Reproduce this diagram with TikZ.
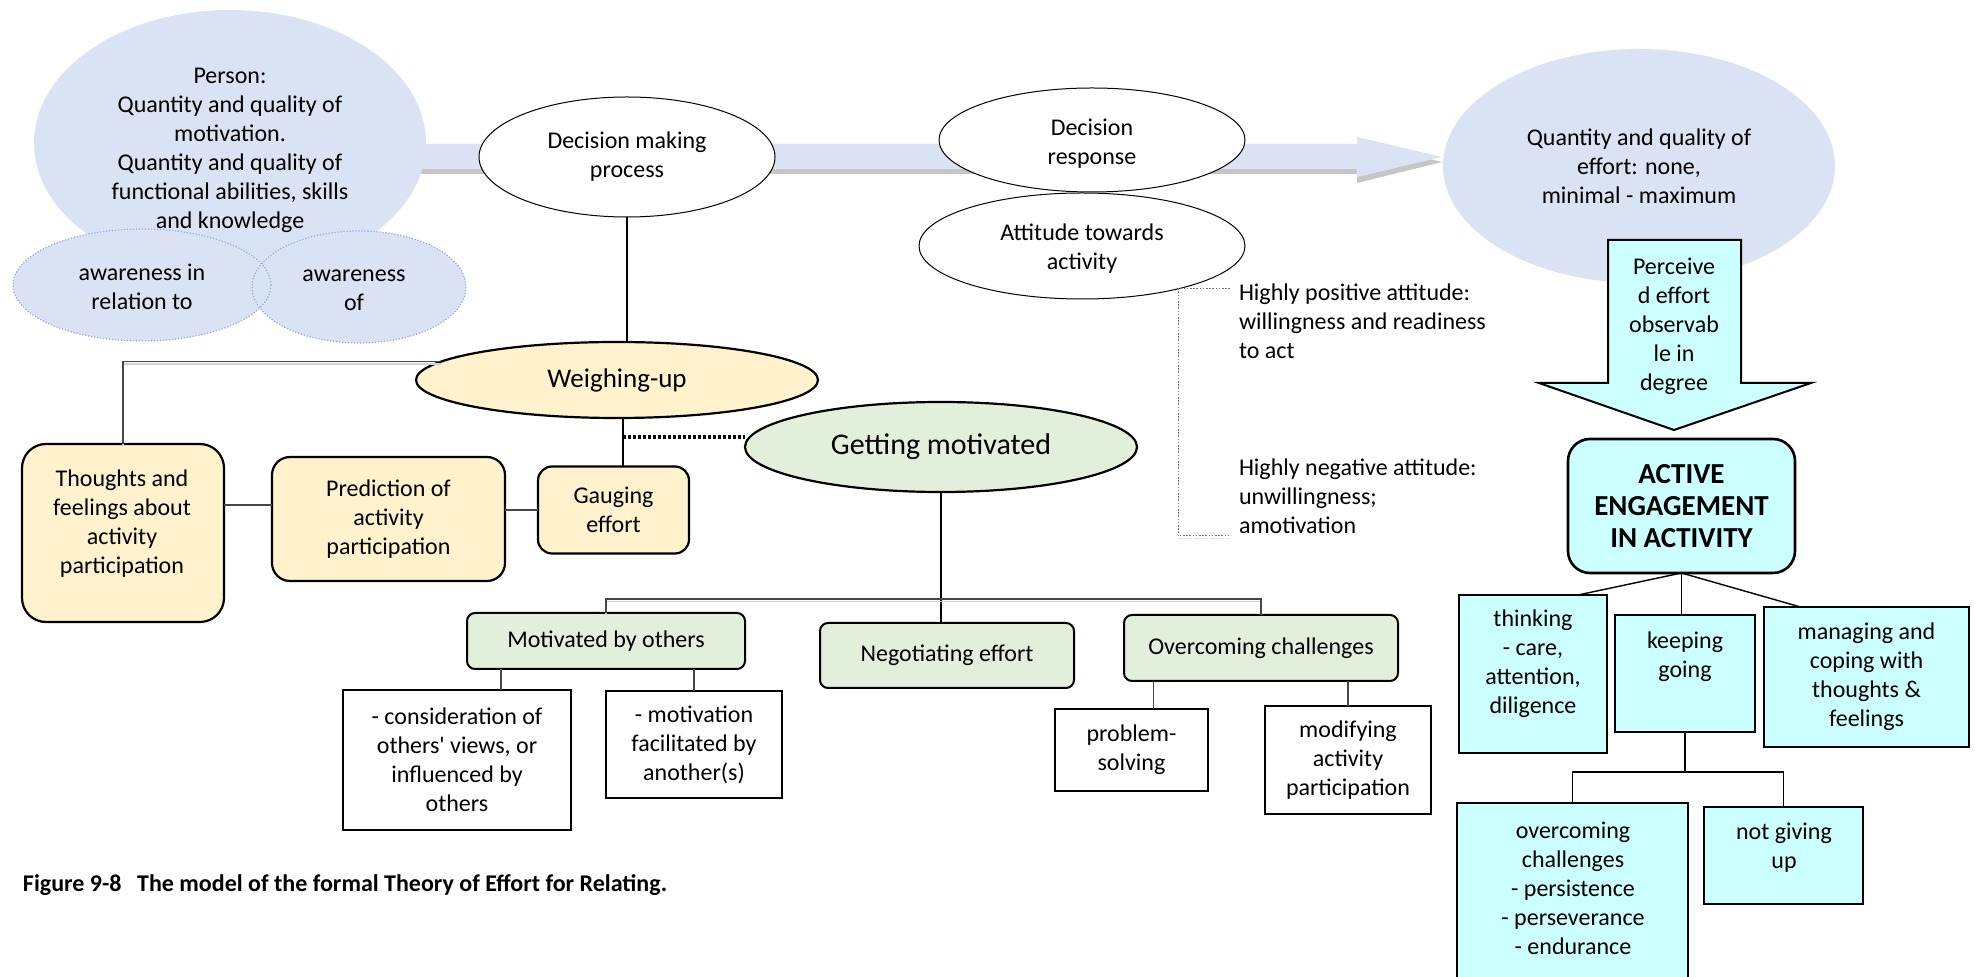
\documentclass[tikz,border=0pt]{standalone}
\usepackage{fontspec}
\setmainfont{Carlito}
\usetikzlibrary{shapes.geometric,calc}
\definecolor{paleblue}{HTML}{DAE3F3}
\definecolor{dotblue}{HTML}{8FAADC}
\definecolor{paleyellow}{HTML}{FFF2CC}
\definecolor{palegreen}{HTML}{E2EFDA}
\definecolor{palecyan}{HTML}{CCFFFF}
\definecolor{shadowgray}{HTML}{C6C6C6}
\begin{document}
\begin{tikzpicture}[x=0.5pt,y=-0.5pt,
  every node/.style={font=\fontsize{12pt}{14.5pt}\selectfont, align=center, inner sep=0pt, outer sep=0pt},
  link/.style={draw=black, line width=0.7pt},
  softlink/.style={draw=black!72, line width=0.6pt},
  ghost/.style={draw=black!18, line width=0.6pt, transform canvas={yshift=-1.2pt}},
  bracket/.style={draw=black!55, line width=0.5pt, dash pattern=on 0.8pt off 0.8pt},
  blob/.style={ellipse, fill=paleblue},
  dotedge/.style={draw=dotblue, line width=0.6pt, dash pattern=on 0.6pt off 0.9pt},
  oval/.style={ellipse, draw=black, fill=white, line width=0.5pt},
  yoval/.style={ellipse, draw=black, fill=paleyellow, line width=1.1pt},
  goval/.style={ellipse, draw=black, fill=palegreen, line width=1.1pt},
  ybox/.style={rectangle, draw=black, fill=paleyellow, line width=1.1pt, rounded corners=9pt},
  gbox/.style={rectangle, draw=black, fill=palegreen, line width=1pt, rounded corners=4pt},
  wbox/.style={rectangle, draw=black, fill=white, line width=1pt},
  cbox/.style={rectangle, draw=black, fill=palecyan, line width=0.9pt},
  abox/.style={rectangle, draw=black, fill=palecyan, line width=1.3pt, rounded corners=11pt},
  sz/.style 2 args={minimum width=#1, minimum height=#2},
  txt/.style={}
]
\useasboundingbox (0,0) rectangle (1975,977);
\clip (0,0) rectangle (1975,977);

% broad flow arrow with its drop shadow
\fill[shadowgray] (320,149) -- (1357,149) -- (1357,142) -- (1442,162) -- (1357,183) -- (1357,174) -- (320,174) -- cycle;
\fill[paleblue] (320,144) -- (1357,144) -- (1357,137) -- (1442,157) -- (1357,177) -- (1357,169) -- (320,169) -- cycle;

% person and effort bubbles
\node[blob, sz={196pt}{133pt}] (person) at (230,143) {};
\node[blob, sz={196pt}{117pt}] (effort) at (1639,166)
  {Quantity and quality of\\effort: none,\\minimal - maximum};

% awareness bubbles
\node[blob, sz={129pt}{56pt}] (aw1) at (142,285) {};
\node[blob, sz={107pt}{56pt}] (aw2) at (359,287) {};
\draw[dotedge] (aw1.center) ellipse [x radius=129, y radius=56];
\draw[dotedge] (aw2.center) ellipse [x radius=107, y radius=56];
\node[txt] (aw1t) at (142,287) {awareness in\\relation to};
\node[txt] (aw2t) at (354,290) {awareness\\of};
\node[txt] (persont) at (230,150) {Person:\\Quantity and quality of\\motivation.\\Quantity and quality of\\functional abilities, skills\\and knowledge};

% decision ovals
\node[oval, sz={148pt}{60pt}] (dmp) at (627,157) {Decision making\\process};
\node[oval, sz={153pt}{52pt}] (dr) at (1092,140) {};
\node[txt] (drt) at (1092,144) {Decision\\response};
\node[oval, sz={163pt}{53pt}] (att) at (1082,246) {};
\node[txt] (attt) at (1082,249) {Attitude towards\\activity};

% block arrow down to engagement
\filldraw[fill=palecyan, draw=black, line width=1pt, line join=miter]
  (1608,240) -- (1741,240) -- (1741,383) -- (1811,383) -- (1674,430) -- (1539,383) -- (1608,383) -- cycle;
\node[txt] (perc) at (1674,326) {Perceive\\d effort\\observab\\le in\\degree};

% weighing-up branch
\node[yoval, sz={201pt}{38pt}, font=\fontsize{13.5pt}{16pt}\selectfont] (wu) at (617,380) {Weighing-up};
\node[ybox, rounded corners=12pt, sz={101pt}{89pt}] (thoughts) at (123,533) {};
\node[txt] (thoughtst) at (122,524) {Thoughts and\\feelings about\\activity\\participation};
\node[ybox, sz={116.5pt}{62pt}] (pred) at (388.5,519) {Prediction of\\activity\\participation};
\node[ybox, rounded corners=7pt, sz={75.5pt}{43.5pt}] (gauge) at (613.5,510) {Gauging\\effort};

% getting motivated branch
\node[goval, sz={196pt}{45pt}, font=\fontsize{15pt}{18pt}\selectfont] (gm) at (941,447) {Getting motivated};
\node[gbox, sz={139pt}{28pt}] (mbo) at (606,641) {Motivated by others};
\node[gbox, sz={127pt}{32.5pt}] (neg) at (947,655.5) {Negotiating effort};
\node[gbox, sz={137pt}{33pt}] (ocg) at (1261,648) {Overcoming challenges};
\node[wbox, sz={114pt}{70pt}] (cons) at (457,760) {- consideration of\\others\textquotesingle{} views, or\\influenced by\\others};
\node[wbox, sz={88pt}{53.5pt}] (facil) at (694,744.5) {- motivation\\facilitated by\\another(s)};
\node[wbox, sz={76.5pt}{41pt}] (ps) at (1131.5,750) {problem-\\solving};
\node[wbox, sz={83pt}{54pt}] (mod) at (1348,760) {modifying\\activity\\participation};

% engagement branch
\node[abox, sz={113.5pt}{67pt}, font=\bfseries\fontsize{14.5pt}{15.8pt}\selectfont] (act) at (1681.5,506) {ACTIVE\\ENGAGEMENT\\IN ACTIVITY};
\node[cbox, sz={74pt}{79pt}] (think) at (1533,674) {};
\node[txt] (thinkt) at (1533,664) {thinking\\- care,\\attention,\\diligence};
\node[cbox, sz={70pt}{58.5pt}] (keep) at (1685,673.5) {};
\node[txt] (keept) at (1685,657) {keeping\\going};
\node[cbox, sz={102.5pt}{70pt}] (man) at (1866.5,677) {managing and\\coping with\\thoughts \&\\feelings};
\node[cbox, sz={115.5pt}{96pt}] (ovc) at (1572.5,899) {};
\node[txt] (ovct) at (1573,888) {overcoming\\challenges\\- persistence\\- perseverance\\- endurance};
\node[cbox, sz={79.5pt}{48.5pt}] (ngu) at (1783.5,855.5) {};
\node[txt] (ngut) at (1784,848) {not giving\\up};

% attitude range
\node[txt, anchor=west, align=left] (hipos) at (1239,321) {Highly positive attitude:\\willingness and readiness\\to act};
\node[txt, anchor=west, align=left] (hineg) at (1239,496) {Highly negative attitude:\\unwillingness;\\amotivation};
\coordinate (btop) at (1230,289);
\coordinate (bcorner) at (1178,536);
\coordinate (bbot) at (1230,536);
\draw[bracket] (btop) -| (bcorner) -- (bbot);
\draw[bracket, draw=black!15, transform canvas={yshift=-1.2pt}] (bcorner) -- (bbot);

% connectors
\coordinate (wg) at (623,437);
\coordinate (gbar) at (940,599);
\coordinate (kbar) at (1680,772);
\draw[link] (dmp.south) -- (dmp.south |- wu.north);
\draw[ghost] (wu.174.6) -| (thoughts.north);
\draw[softlink] (wu.174.6) -| (thoughts.north);
\draw[link] (wg |- wu.south) -- (wg |- gauge.north);
\draw[link, line width=1.6pt, dash pattern=on 1.6pt off 0.9pt] (wg) -- (wg -| gm.west);
\draw[softlink] ([yshift=7pt]pred.west) -- ([yshift=7pt]pred.west -| thoughts.east);
\draw[softlink] (gauge.west) -- (gauge.west -| pred.east);
\draw[link] (gm.south) -- (gm.south |- neg.north);
\draw[ghost] (mbo.north) -- (mbo.north |- gbar) -- (ocg.north |- gbar);
\draw[softlink] (mbo.north) -- (mbo.north |- gbar) -- (ocg.north |- gbar) -- (ocg.north);
\draw[softlink] ([xshift=-52.5pt]mbo.south) -- ([xshift=-52.5pt]mbo.south |- cons.north);
\draw[softlink] (facil.north) -- (facil.north |- mbo.south);
\draw[softlink] ([xshift=11pt]ps.north) -- ([xshift=11pt]ps.north |- ocg.south);
\draw[softlink] (mod.north) -- (mod.north |- ocg.south);
\draw[link] (act.south) -- ([xshift=22.5pt]think.north);
\draw[link] (act.south) -- (act.south |- keep.north);
\draw[link] (act.south) -- ([xshift=-33pt]man.north);
\draw[link] (keep.south) -- (keep.south |- kbar);
\draw[link] (ovc.north) |- (ngu.north |- kbar) -- (ngu.north);

% caption
\node[txt, anchor=west, font=\bfseries\fontsize{12pt}{14.5pt}\selectfont] (caption) at (23,885)
  {Figure 9-8\hspace{0.65em}The model of the formal Theory of Effort for Relating.};
\end{tikzpicture}
\end{document}
